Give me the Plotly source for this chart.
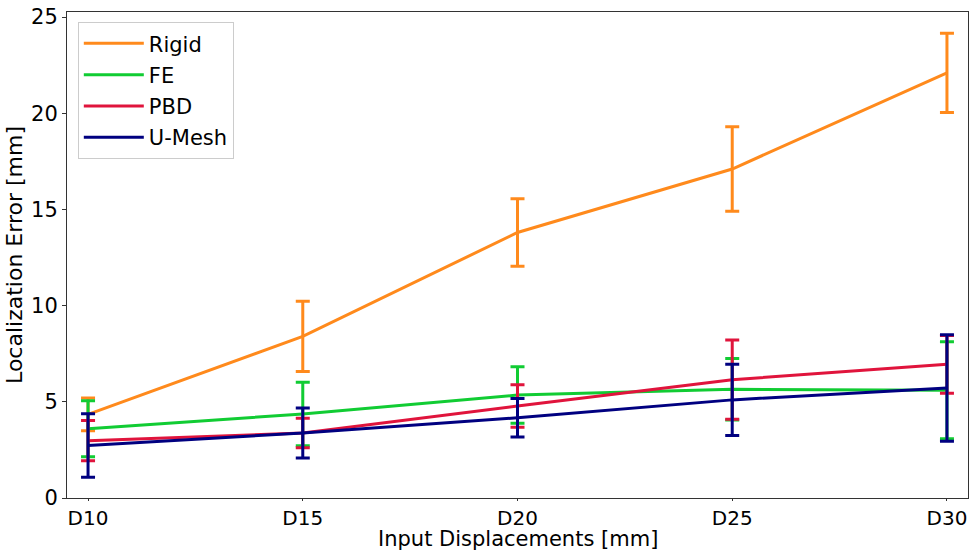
import plotly.graph_objects as go

categories = ["D10", "D15", "D20", "D25", "D30"]
series_names = ["Rigid", "FE", "PBD", "U-Mesh"]
rigid_mean = [4.35, 8.4, 13.8, 17.1, 22.1]
rigid_err = [0.85, 1.82, 1.76, 2.2, 2.06]
fe_mean = [3.6, 4.37, 5.35, 5.65, 5.6]
fe_err = [1.45, 1.65, 1.47, 1.6, 2.52]
pbd_mean = [2.98, 3.38, 4.78, 6.15, 6.95]
pbd_err = [1.05, 0.77, 1.1, 2.06, 1.5]
umesh_mean = [2.73, 3.38, 4.17, 5.1, 5.72]
umesh_err = [1.65, 1.3, 1.0, 1.85, 2.77]
y_ticks = [0, 5, 10, 15, 20, 25]

colors = ["#ff8a1c", "#11cc33", "#e0143c", "#000080"]
means = [rigid_mean, fe_mean, pbd_mean, umesh_mean]
errs = [rigid_err, fe_err, pbd_err, umesh_err]

FONT = "DejaVu Sans"
fig = go.Figure()
xs = list(range(len(categories)))
for name, m, e, c in zip(series_names, means, errs, colors):
    fig.add_trace(go.Scatter(
        x=xs, y=m, name=name, mode="lines", legendgroup=name,
        line=dict(color=c, width=3),
        error_y=dict(type="data", array=e, visible=True, color=c, thickness=3, width=7),
    ))

fig.update_layout(
    width=971, height=551,
    margin=dict(l=67, r=3, t=12, b=53),
    paper_bgcolor="white", plot_bgcolor="white",
    font=dict(family=FONT, size=20, color="black"),
    showlegend=True,
    legend=dict(
        x=0.012, y=0.979, xanchor="left", yanchor="top",
        bgcolor="rgba(255,255,255,0.85)", bordercolor="#cccccc", borderwidth=1,
        font=dict(family=FONT, size=21, color="black"),
        itemwidth=60, tracegroupgap=1,
    ),
    xaxis=dict(
        range=[-0.098, 4.098],
        tickmode="array", tickvals=xs, ticktext=categories,
        showgrid=False, zeroline=False,
        showline=True, linecolor="#333333", linewidth=1, mirror=True,
        ticks="outside", ticklen=2, tickcolor="#333333",
        tickfont=dict(family=FONT, size=20),
    ),
    yaxis=dict(
        range=[0, 25.26],
        tickmode="array", tickvals=y_ticks,
        showgrid=False, zeroline=False,
        showline=True, linecolor="#333333", linewidth=1, mirror=True,
        ticks="outside", ticklen=4, tickcolor="#333333",
        tickfont=dict(family=FONT, size=21),
        title=dict(text="Localization Error [mm]", font=dict(family=FONT, size=22), standoff=2),
    ),
    annotations=[dict(
        text="Input Displacements [mm]", xref="paper", yref="paper",
        x=0.5, y=-53 / 486, xanchor="center", yanchor="bottom",
        showarrow=False, borderpad=0, yshift=-1,
        font=dict(family=FONT, size=21, color="black"),
    )],
)

fig.write_html(
    "out.html",
    config={"displayModeBar": False},
    post_script="document.body.style.margin='0';document.body.style.overflow='hidden';",
)
